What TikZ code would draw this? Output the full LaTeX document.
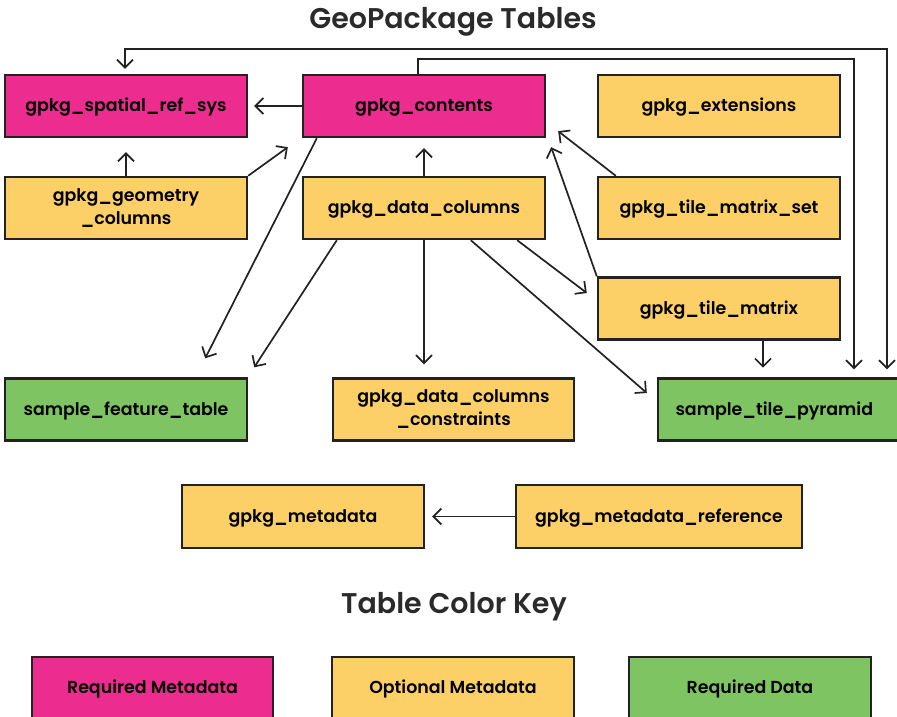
\documentclass[tikz,border=0pt]{standalone}
\usepackage{fontspec}
\setmainfont{Poppins}[BoldFont={* SemiBold}]
\usetikzlibrary{arrows.meta,calc}
\definecolor{reqmeta}{HTML}{EC2D8F}
\definecolor{optmeta}{HTML}{FCD066}
\definecolor{reqdata}{HTML}{7EC462}
\definecolor{edge}{HTML}{222222}
\definecolor{ttl}{HTML}{2A2A2A}
\begin{document}
\begin{tikzpicture}[x=1pt,y=-1pt,
  tbl/.style={draw=edge,line width=2.4pt,minimum width=242pt,minimum height=62pt,
    inner sep=0pt,align=center,font=\fontsize{17.4}{23}\selectfont\bfseries,text=black},
  one/.style={text height=14pt,text depth=3pt},
  rm/.style={tbl,fill=reqmeta},
  om/.style={tbl,fill=optmeta},
  rd/.style={tbl,fill=reqdata},
  arr/.style={draw=edge,line width=1.7pt,-{Straight Barb[length=8pt,width=16pt,line width=1.7pt]}},
  heading/.style={font=\fontsize{28.5}{32}\selectfont\bfseries,text=ttl}]
\useasboundingbox (0,0) rectangle (897,717);
\node[heading] (title) at (453,22) {GeoPackage Tables};
\node[rm,one] (srs) at (126,106) {gpkg\_spatial\_ref\_sys};
\node[rm,one] (cont) at (424,106) {gpkg\_contents};
\node[om,one] (ext) at (719,106) {gpkg\_extensions};
\node[om] (geom) at (126,208) {gpkg\_geometry\\\_columns};
\node[om,one] (dc) at (424,208) {gpkg\_data\_columns};
\node[om,one] (tms) at (719,208) {gpkg\_tile\_matrix\_set};
\node[om,one] (tm) at (719,308.5) {gpkg\_tile\_matrix};
\node[rd,one] (sft) at (126,409.5) {sample\_feature\_table};
\node[om,minimum width=241pt] (dcc) at (453.5,409.5) {gpkg\_data\_columns\\\_constraints};
\node[rd,one,minimum width=241pt,text width=224pt,align=left] (stp) at (778.5,409.5) {\hspace*{9pt}sample\_tile\_pyramid};
\node[om,one,minimum height=63pt] (md) at (303,516.5) {gpkg\_metadata};
\node[om,one,minimum width=286pt,minimum height=63pt] (mdr) at (659,516.5) {gpkg\_metadata\_reference};
\node[heading] (key) at (454,607) {Table Color Key};
\node[rm,one,minimum width=241pt] (l1) at (152.5,688) {Required Metadata};
\node[om,one] (l2) at (453,688) {Optional Metadata};
\node[rd,one] (l3) at (750,688) {Required Data};
% connectors
\draw[arr,{Straight Barb[length=8pt,width=16pt,line width=1.7pt]}-{Straight Barb[length=8pt,width=16pt,line width=1.7pt]}]
  ($(stp.north)+(108.5,-8)$) -- ($(stp.north)+(108.5,-328)$) -| ($(srs.north)+(-1,-5)$);
\draw[arr] ($(cont.north)+(-6,0)$) -- ($(cont.north)+(-6,-15)$) -| ($(stp.north)+(75.5,-8)$);
\draw[arr] (cont.west) -- ($(srs.east)+(6,0)$);
\draw[arr] (geom.north) -- ($(srs.south)+(0,14)$);
\draw[arr] (geom.north east) -- ($(cont.south west)+(-14,9)$);
\draw[arr] ($(cont.south west)+(15,0)$) -- ($(sft.north east)+(-43,-19)$);
\draw[arr] ($(dc.south west)+(35,0)$) -- ($(sft.north east)+(6,-10)$);
\draw[arr] (dc.south) -- ($(dc.south |- dcc.north)+(0,-13)$);
\draw[arr] (dc.north) -- ($(cont.south)+(0,10)$);
\draw[arr] ($(tms.north west)+(19,0)$) -- ($(cont.south east)+(12,-7)$);
\draw[arr] (tm.north west) -- ($(cont.south east)+(5,9)$);
\draw[arr] ($(dc.south east)+(-29,0)$) -- ($(tm.west)+(-10,-15.5)$);
\draw[arr] ($(dc.south west)+(169,0)$) -- ($(stp.west)+(-10,-16.5)$);
\draw[arr] ($(tm.south)+(44,0)$) -- ($(tm.south)+(44,27)$);
\draw[arr] (mdr.west) -- ($(md.east)+(7,0)$);
\end{tikzpicture}
\end{document}
